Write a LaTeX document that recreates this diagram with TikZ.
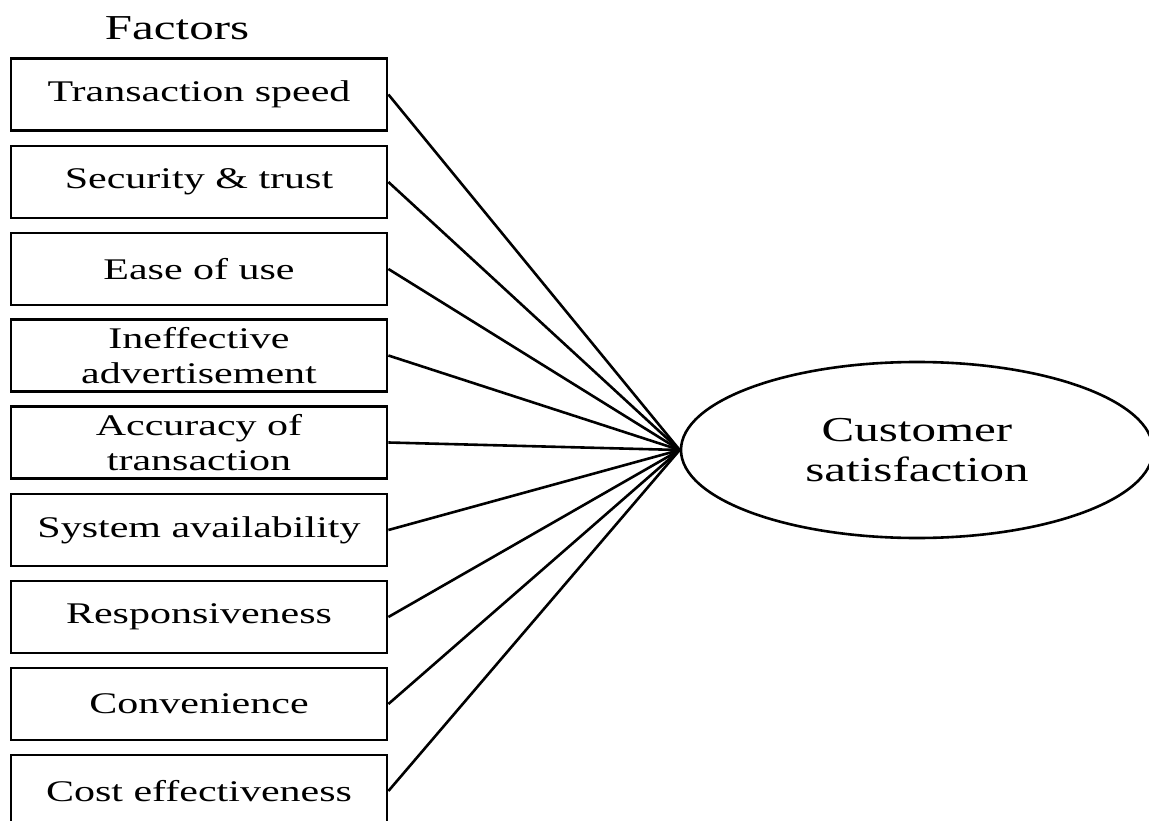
\documentclass[tikz,border=0pt]{standalone}
\usepackage{fontspec}
\setmainfont[FakeStretch=1.4]{Liberation Serif}
\usetikzlibrary{shapes}
\tikzset{factor/.style={draw, line width=2.8pt, minimum width=376pt, minimum height=72pt, inner sep=0pt, align=center, font=\fontsize{30}{35}\selectfont},
         link/.style={line width=2.6pt}}
\begin{document}
\begin{tikzpicture}[x=1pt, y=-1pt]
        \useasboundingbox (0,0) rectangle (1149,821);
        % title
        \node (title) at (177,28) {\fontsize{35}{40}\selectfont Factors};
        % factors
        \node[factor] (speed) at (199,94.5) {Transaction speed};
        \node[factor] (trust) at (199,182) {Security \& trust};
        \node[factor] (ease) at (199,269) {Ease of use};
        \node[factor] (advert) at (199,355.5) {Ineffective\\advertisement};
        \node[factor] (accur) at (199,442.5) {Accuracy of\\transaction};
        \node[factor] (avail) at (199,530) {System availability};
        \node[factor] (resp) at (199,617) {Responsiveness};
        \node[factor] (conv) at (199,704) {Convenience};
        \node[factor] (cost) at (199,791) {Cost effectiveness};
        % outcome
        \node[draw, ellipse, line width=2.6pt, minimum width=472pt, minimum height=176pt, align=center, font=\fontsize{35}{40}\selectfont] (satis) at (917,450) {Customer\\satisfaction};
        % links
        \draw[link] (speed.east) -- (satis.west);
        \draw[link] (trust.east) -- (satis.west);
        \draw[link] (ease.east) -- (satis.west);
        \draw[link] (advert.east) -- (satis.west);
        \draw[link] (accur.east) -- (satis.west);
        \draw[link] (avail.east) -- (satis.west);
        \draw[link] (resp.east) -- (satis.west);
        \draw[link] (conv.east) -- (satis.west);
        \draw[link] (cost.east) -- (satis.west);
\end{tikzpicture}
\end{document}
